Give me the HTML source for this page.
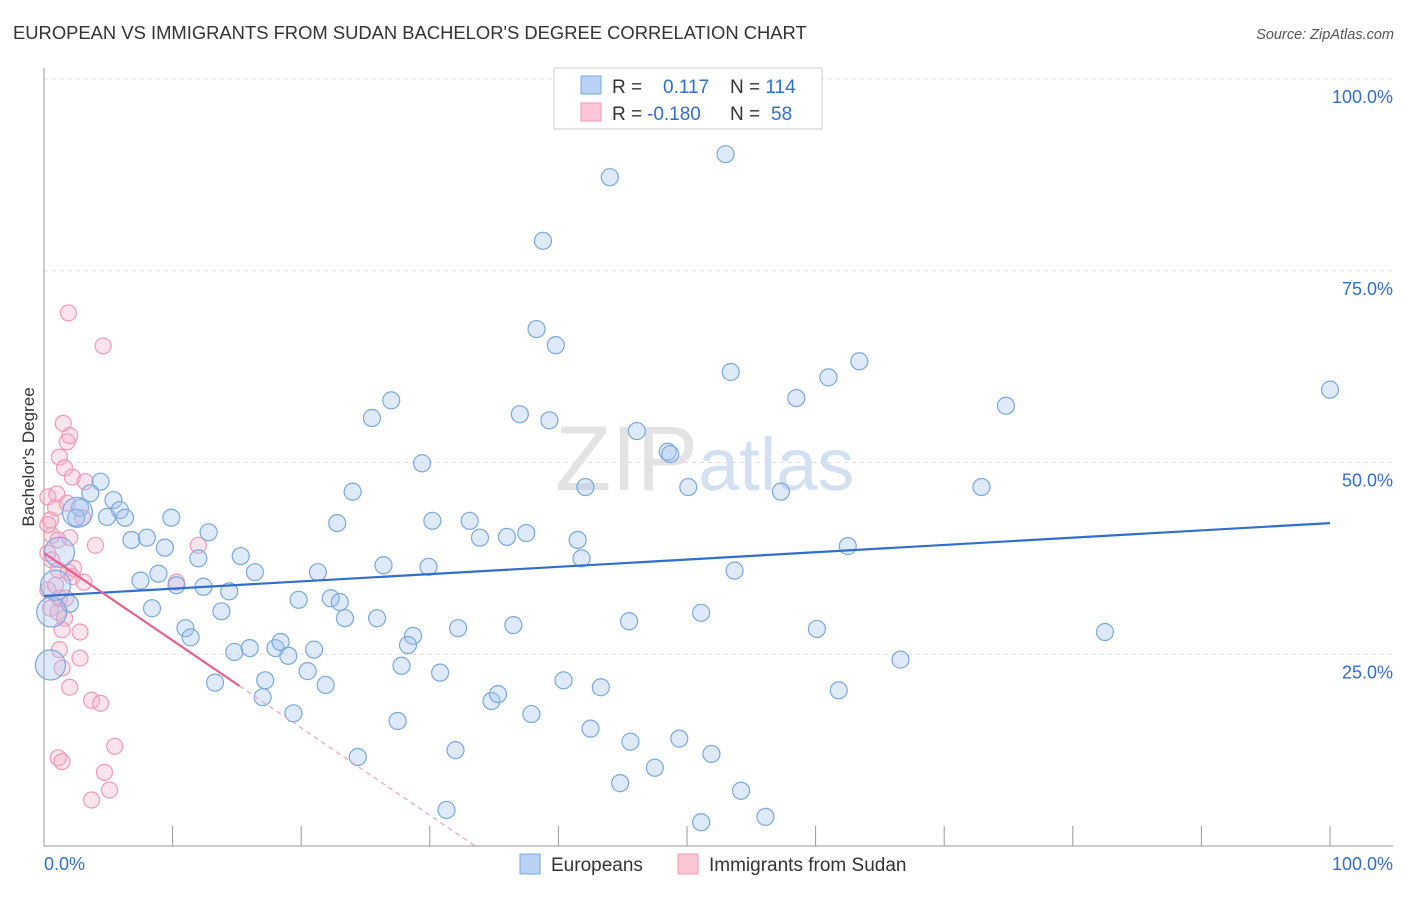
<!DOCTYPE html>
<html><head><meta charset="utf-8"><style>
body{margin:0;background:#fff;font-family:"Liberation Sans",sans-serif;}
svg text{font-family:"Liberation Sans",sans-serif;}
</style></head><body>
<svg id="chart" width="1406" height="892" xmlns="http://www.w3.org/2000/svg">
<text x="13" y="39" font-size="18.4" fill="#333">EUROPEAN VS IMMIGRANTS FROM SUDAN BACHELOR'S DEGREE CORRELATION CHART</text>
<text x="1394" y="39" font-size="14.5" fill="#555" text-anchor="end" font-style="italic">Source: ZipAtlas.com</text>
<text x="555" y="490" font-size="92" fill="#ddd" font-family="Liberation Serif" opacity="0.8">ZIP<tspan fill="#c9d9ef" font-family="Liberation Sans" font-size="74">atlas</tspan></text>
<g id="grid"></g>
<g id="axes"></g>
<g id="pts"></g>
<g id="trends"></g>
<text transform="translate(34,457) rotate(-90)" font-size="17" fill="#333" text-anchor="middle">Bachelor's Degree</text>
<g>
<rect x="554" y="68" width="268" height="61" fill="#fff" stroke="#ccc"/>
<rect x="581" y="76" width="20" height="18" fill="#b8d2f5" stroke="#7aa8e0"/>
<rect x="581" y="103" width="20" height="18" fill="#fcc6d6" stroke="#f09ab5"/>
<text x="612" y="93" font-size="19" fill="#333">R = <tspan fill="#2f6fd0" x="663">0.117</tspan><tspan x="730" fill="#333">N = </tspan><tspan fill="#2f6fd0">114</tspan></text>
<text x="612" y="120" font-size="19" fill="#333">R = <tspan fill="#2f6fd0" x="647">-0.180</tspan><tspan x="730" fill="#333">N = </tspan><tspan fill="#2f6fd0" x="771">58</tspan></text>
</g>
<g>
<rect x="520" y="854" width="20" height="20" fill="#b8d2f5" stroke="#7aa8e0"/>
<text x="551" y="871" font-size="19" fill="#333">Europeans</text>
<rect x="678" y="854" width="20" height="20" fill="#fcc6d6" stroke="#f09ab5"/>
<text x="709" y="871" font-size="19" fill="#333">Immigrants from Sudan</text>
</g>
</svg>
<script>
const yTicks=[25,50,75,100];
const yTickLabels=["25.0%","50.0%","75.0%","100.0%"];
const xTickLabels=["0.0%","100.0%"];
const blueX=[53.0,44.0,38.8,38.3,39.8,53.4,61.0,63.4,100,58.5,74.8,27.0,25.5,37.0,39.3,46.1,48.5,48.7,29.4,42.1,50.1,57.3,72.9,24.0,4.4,3.6,2.8,5.4,5.9,6.3,4.9,2.5,9.9,12.8,6.8,8.0,9.4,15.3,12.0,16.4,8.9,7.5,10.3,12.4,14.4,21.3,26.4,29.9,30.2,33.1,33.9,36.0,37.5,41.5,41.8,22.8,53.7,62.5,8.4,13.8,19.8,22.3,23.0,23.4,25.9,2.0,11.0,11.4,14.8,16.0,18.0,18.4,19.0,21.0,20.5,21.9,17.2,13.3,17.0,19.4,27.8,28.7,28.3,30.8,32.2,36.5,45.5,51.1,60.1,82.5,66.6,40.4,43.3,34.8,35.3,37.9,27.5,32.0,24.4,42.5,45.6,49.4,51.9,47.5,44.8,54.2,31.3,51.1,56.1,61.8,0.5,1.2,0.6,2.6,0.9];
const blueY=[90.2,87.2,78.9,67.4,65.3,61.8,61.1,63.2,59.5,58.4,57.4,58.1,55.8,56.3,55.5,54.1,51.4,51.1,49.9,46.8,46.8,46.2,46.8,46.2,47.5,46.0,44.1,45.1,43.8,42.8,42.9,42.8,42.8,40.9,39.9,40.2,38.9,37.8,37.5,35.7,35.5,34.6,34.0,33.8,33.2,35.7,36.6,36.4,42.4,42.4,40.2,40.3,40.8,39.9,37.5,42.1,35.9,39.1,31.0,30.6,32.1,32.3,31.8,29.7,29.7,31.6,28.4,27.2,25.3,25.8,25.8,26.6,24.8,25.6,22.8,21.0,21.6,21.3,19.4,17.3,23.5,27.4,26.2,22.6,28.4,28.8,29.3,30.4,28.3,27.9,24.3,21.6,20.7,18.9,19.8,17.2,16.3,12.5,11.6,15.3,13.6,14.0,12.0,10.2,8.2,7.2,4.7,3.1,3.8,20.3,23.6,38.3,30.5,43.5,34.0];
const blueBig=[0,0,0,0,0,0,0,0,0,0,0,0,0,0,0,0,0,0,0,0,0,0,0,0,0,0,0,0,0,0,0,0,0,0,0,0,0,0,0,0,0,0,0,0,0,0,0,0,0,0,0,0,0,0,0,0,0,0,0,0,0,0,0,0,0,0,0,0,0,0,0,0,0,0,0,0,0,0,0,0,0,0,0,0,0,0,0,0,0,0,0,0,0,0,0,0,0,0,0,0,0,0,0,0,0,0,0,0,0,0,1,1,1,1,1];
const pinkX=[1.9,4.6,1.5,2.0,1.8,1.2,1.6,2.2,3.2,0.3,1.0,0.9,1.8,3.0,0.5,0.6,1.1,2.0,4.0,0.3,0.6,1.1,1.9,2.2,3.1,0.3,0.9,0.5,1.1,1.6,1.4,2.8,1.2,1.4,2.0,2.8,3.7,4.4,5.5,1.1,1.4,4.7,5.1,3.7,10.3,12.0,0.3,1.2,1.7,2.3];
const pinkY=[69.5,65.2,55.1,53.5,52.7,50.7,49.3,48.1,47.5,45.5,45.9,44.1,44.7,42.8,42.5,40.5,39.9,40.2,39.2,38.2,37.3,36.0,35.7,35.1,34.4,33.4,34.0,31.0,30.5,29.7,28.2,27.9,25.6,23.2,20.7,24.5,19.0,18.6,13.0,11.5,11.0,9.6,7.3,6.0,34.4,39.2,41.9,32.3,32.3,36.2];
const blueTrend=[32.6,42.1];
const pinkTrend=[38.2,-1.14];
const pinkSolidEnd=15.2;

const X0=44,X1=1330,Y0=846,Y100=79;
const sx=v=>X0+(X1-X0)*v/100;
const sy=v=>Y0-(Y0-Y100)*v/100;
const NS="http://www.w3.org/2000/svg";
function mk(tag,attrs,parent){const e=document.createElementNS(NS,tag);for(const k in attrs)e.setAttribute(k,attrs[k]);parent.appendChild(e);return e;}
const grid=document.getElementById('grid'),axes=document.getElementById('axes'),pts=document.getElementById('pts'),tr=document.getElementById('trends');
yTicks.forEach((t,i)=>{
  const l=mk('line',{x1:X0,x2:1393,y1:sy(t),y2:sy(t),stroke:'#ddd','stroke-dasharray':'4,4'},grid);
  
  
  const tx=mk('text',{x:1393,y:sy(t)+24,'font-size':18,fill:'#2f6fd0','text-anchor':'end'},axes);
  tx.textContent=yTickLabels[i];
  
  
});
const va=mk('line',{x1:X0,x2:X0,y1:68,y2:Y0,stroke:'#999'},axes);


const ha=mk('line',{x1:X0,x2:1393,y1:Y0,y2:Y0,stroke:'#999'},axes);


for(let i=0;i<=10;i++){
  const t=mk('line',{x1:sx(i*10),x2:sx(i*10),y1:826,y2:Y0,stroke:'#999'},axes);
  
  
}
[[0,'start',X0],[100,'end',1393]].forEach((d,i)=>{
  const tx=mk('text',{x:d[2],y:870,'font-size':18,fill:'#2f6fd0','text-anchor':d[1]},axes);
  tx.textContent=xTickLabels[i];
  
  
});
pinkX.forEach((x,i)=>{
  const c=mk('circle',{cx:sx(x),cy:sy(pinkY[i]),r:8,fill:'rgba(248,175,198,0.35)',stroke:'#f09ab5','stroke-width':1.2},pts);
  
  
});
blueX.forEach((x,i)=>{
  const c=mk('circle',{cx:sx(x),cy:sy(blueY[i]),r:blueBig[i]?15:8.5,fill:'rgba(160,195,240,0.35)',stroke:'#7aa8e0','stroke-width':1.2},pts);
  
  
});
const bt=mk('line',{x1:sx(0),y1:sy(blueTrend[0]),x2:sx(100),y2:sy(blueTrend[1]),stroke:'#2f6fd0','stroke-width':2.2},tr);


const pEnd=-pinkTrend[0]/pinkTrend[1];
const pt=mk('line',{x1:sx(0),y1:sy(pinkTrend[0]),x2:sx(pinkSolidEnd),y2:sy(pinkTrend[0]+pinkTrend[1]*pinkSolidEnd),stroke:'#e8608f','stroke-width':2.2},tr);


const pd=mk('line',{x1:sx(pinkSolidEnd),y1:sy(pinkTrend[0]+pinkTrend[1]*pinkSolidEnd),x2:sx(pEnd),y2:sy(0),stroke:'#f0a0bb','stroke-width':1.2,'stroke-dasharray':'5,4'},tr);


</script>
</body></html>
